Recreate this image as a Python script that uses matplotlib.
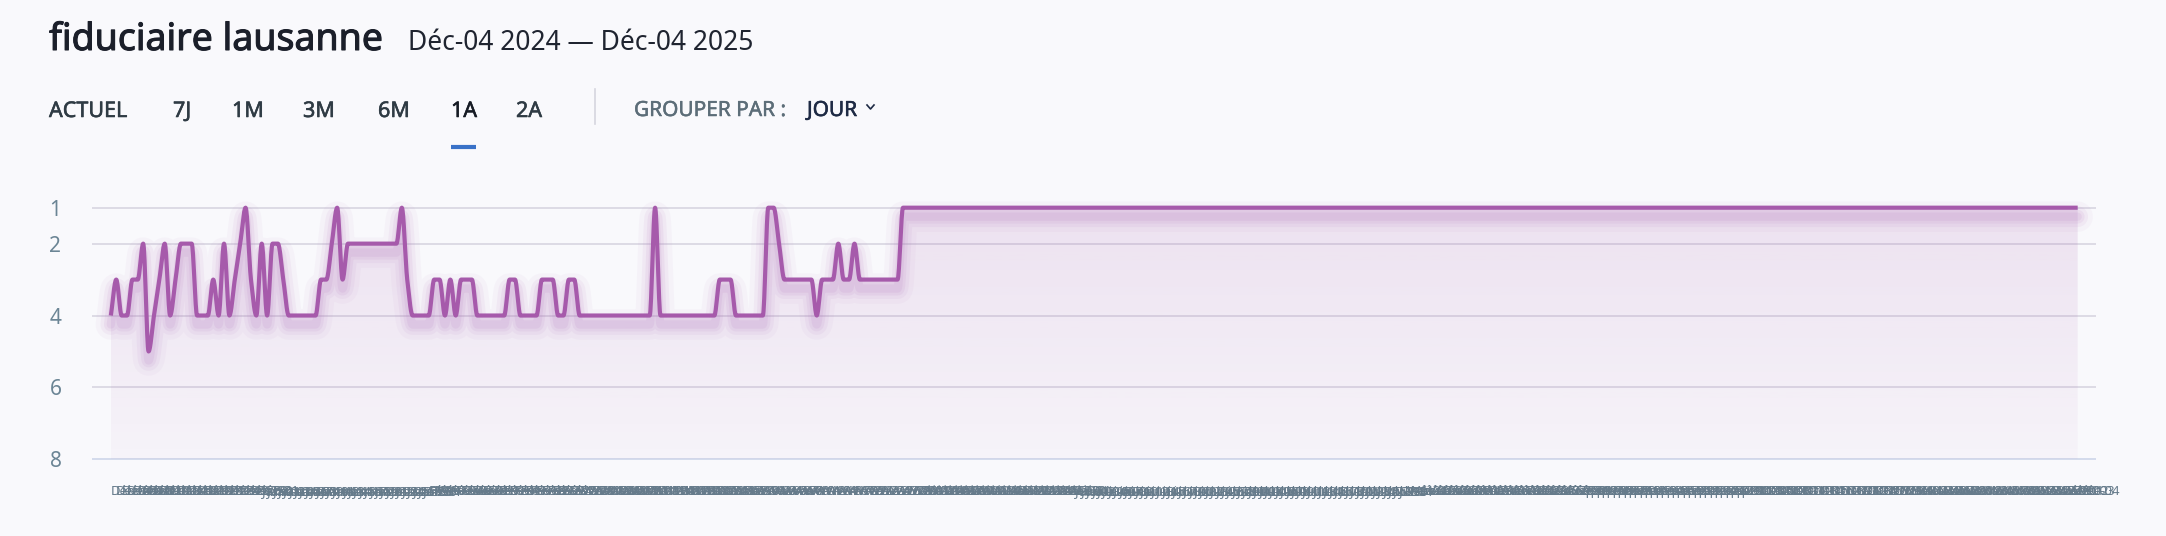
import numpy as np
import pandas as pd
import matplotlib
matplotlib.use("Agg")
import matplotlib.pyplot as plt
from matplotlib import transforms
import matplotlib.patheffects as pe

# ---- data ----
title = "fiduciaire lausanne"
period_label = "Déc-04 2024 — Déc-04 2025"
periods = ["ACTUEL", "7J", "1M", "3M", "6M", "1A", "2A"]
active_period = "1A"
group_label = "GROUPER PAR :"
group_value = "JOUR"

days = pd.date_range("2024-12-04", "2025-12-04", freq="D")
fr_months = ["Jan", "Fév", "Mar", "Avr", "Mai", "Jui", "Jul", "Aoû", "Sep", "Oct", "Nov", "Déc"]
tick_labels = [f"{fr_months[d.month - 1]}-{d.day:02d}" for d in days]

# daily rank (1 = best)
ranks = [
    4, 3, 4, 4, 3, 3, 2, 5, 4, 3,
    2, 4, 3, 2, 2, 2, 4, 4, 4, 3,
    4, 2, 4, 3, 2, 1, 3, 4, 2, 4,
    2, 2, 3, 4, 4, 4, 4, 4, 4, 3,
    3, 2, 1, 3, 2, 2, 2, 2, 2, 2,
    2, 2, 2, 2, 1, 3, 4, 4, 4, 4,
    3, 3, 4, 3, 4, 3, 3, 3, 4, 4,
    4, 4, 4, 4, 3, 3, 4, 4, 4, 4,
    3, 3, 3, 4, 4, 3, 3, 4, 4, 4,
    4, 4, 4, 4, 4, 4, 4, 4, 4, 4,
    4, 1, 4, 4, 4, 4, 4, 4, 4, 4,
    4, 4, 4, 3, 3, 3, 4, 4, 4, 4,
    4, 4, 1, 1, 2, 3, 3, 3, 3, 3,
    3, 4, 3, 3, 3, 2, 3, 3, 2, 3,
    3, 3, 3, 3, 3, 3, 3, 1, 1, 1,
    1, 1, 1, 1, 1, 1, 1, 1, 1, 1,
    1, 1, 1, 1, 1, 1, 1, 1, 1, 1,
    1, 1, 1, 1, 1, 1, 1, 1, 1, 1,
    1, 1, 1, 1, 1, 1, 1, 1, 1, 1,
    1, 1, 1, 1, 1, 1, 1, 1, 1, 1,
    1, 1, 1, 1, 1, 1, 1, 1, 1, 1,
    1, 1, 1, 1, 1, 1, 1, 1, 1, 1,
    1, 1, 1, 1, 1, 1, 1, 1, 1, 1,
    1, 1, 1, 1, 1, 1, 1, 1, 1, 1,
    1, 1, 1, 1, 1, 1, 1, 1, 1, 1,
    1, 1, 1, 1, 1, 1, 1, 1, 1, 1,
    1, 1, 1, 1, 1, 1, 1, 1, 1, 1,
    1, 1, 1, 1, 1, 1, 1, 1, 1, 1,
    1, 1, 1, 1, 1, 1, 1, 1, 1, 1,
    1, 1, 1, 1, 1, 1, 1, 1, 1, 1,
    1, 1, 1, 1, 1, 1, 1, 1, 1, 1,
    1, 1, 1, 1, 1, 1, 1, 1, 1, 1,
    1, 1, 1, 1, 1, 1, 1, 1, 1, 1,
    1, 1, 1, 1, 1, 1, 1, 1, 1, 1,
    1, 1, 1, 1, 1, 1, 1, 1, 1, 1,
    1, 1, 1, 1, 1, 1, 1, 1, 1, 1,
    1, 1, 1, 1, 1, 1,
]
y_ticks = [1, 2, 4, 6, 8]
assert len(ranks) == len(days)

# ---- style ----
BG = "#f9f9fc"
LINE = "#a65aab"
W, H = 2166, 536
plt.rcParams["font.family"] = ["Noto Sans", "DejaVu Sans"]


def smooth(y, n=16):
    # monotone cubic (Fritsch-Carlson) through the daily points, unit spacing
    y = np.asarray(y, dtype=float)
    d = np.diff(y)
    m = np.zeros_like(y)
    m[0], m[-1] = d[0], d[-1]
    for i in range(1, len(y) - 1):
        if d[i - 1] * d[i] > 0:
            m[i] = 2.0 / (1.0 / d[i - 1] + 1.0 / d[i])
    t = np.linspace(0, 1, n, endpoint=False)
    h00 = 2 * t**3 - 3 * t**2 + 1
    h10 = t**3 - 2 * t**2 + t
    h01 = -2 * t**3 + 3 * t**2
    h11 = t**3 - t**2
    xs, ys = [], []
    for i in range(len(y) - 1):
        xs.append(i + t)
        ys.append(h00 * y[i] + h10 * m[i] + h01 * y[i + 1] + h11 * m[i + 1])
    xs.append([len(y) - 1])
    ys.append([y[-1]])
    return np.concatenate(xs), np.concatenate(ys)


def bolder(color, lw):
    # fake a heavier weight: only the regular face is installed
    return [pe.withStroke(linewidth=lw, foreground=color)]


fig = plt.figure(figsize=(W / 100, H / 100), dpi=100, facecolor=BG)


def fx(px):
    return px / W


def fy(py):
    return 1 - py / H


# header
fig.text(fx(49), fy(50), title, fontsize=27, color="#1b1f2a", va="baseline",
         path_effects=bolder("#1b1f2a", 0.75))
fig.text(fx(408), fy(50), period_label, fontsize=19, color="#1f2430", va="baseline")

tab_x = [49, 173, 232, 303, 378, 451, 516]
for lab, x in zip(periods, tab_x):
    col = "#161b24" if lab == active_period else "#2f3b44"
    fig.text(fx(x), fy(117), lab, fontsize=15.5, color=col, va="baseline",
             path_effects=bolder(col, 0.4))
fig.add_artist(plt.Line2D([fx(451), fx(476)], [fy(147), fy(147)], color="#3a72c8",
                          lw=3, solid_capstyle="butt"))
fig.add_artist(plt.Line2D([fx(595), fx(595)], [fy(89), fy(124)], color="#d6d6de", lw=1.2))
fig.text(fx(634), fy(116), group_label, fontsize=15, color="#5c6d78", va="baseline",
         path_effects=bolder("#5c6d78", 0.35))
fig.text(fx(807), fy(116), group_value, fontsize=15, color="#1e2a44", va="baseline",
         path_effects=bolder("#1e2a44", 0.4))
# small chevron after the group value
fig.add_artist(plt.Line2D([fx(867), fx(870.5), fx(874)], [fy(105), fy(109), fy(105)],
                          color="#1e2a44", lw=1.2))

# chart axes: gridline 1 at y=207.7px, gridline 8 at y=459.3px
px_per_unit = (459.3 - 207.7) / 7
y_top, y_bot = 0.5, 8.3
ax_top = 207.7 - (1 - y_top) * px_per_unit
ax_bot = 459.3 + (y_bot - 8) * px_per_unit
ax = fig.add_axes([fx(92), fy(ax_bot), (2096 - 92) / W, (ax_bot - ax_top) / H])
ax.set_facecolor(BG)

x = np.arange(len(ranks))
y = np.array(ranks, dtype=float)
sx, sy = smooth(y)

# gradient area under the line
grad = np.zeros((256, 1, 4))
grad[..., :3] = matplotlib.colors.to_rgb(LINE)
grad[:, 0, 3] = np.linspace(0.15, 0.035, 256)
area = ax.fill_between(sx, sy, 8, facecolor="none", edgecolor="none")
img = ax.imshow(grad, extent=(x[0], x[-1], 8, 1), aspect="auto", origin="upper", zorder=1)
img.set_clip_path(area.get_paths()[0], transform=ax.transData)

# soft glow below the line
for lw, a in [(22, 0.05), (15, 0.08), (10, 0.1), (6, 0.12)]:
    shadow = transforms.offset_copy(ax.transData, fig=fig, x=0, y=-9, units="dots")
    ax.plot(sx, sy, color="#b67cc1", lw=lw, alpha=a, transform=shadow,
            solid_joinstyle="round", solid_capstyle="round", zorder=2)

ax.plot(sx, sy, color=LINE, lw=3.0, solid_joinstyle="round", solid_capstyle="butt",
        zorder=4, clip_on=False)

# grid
for t in y_ticks:
    gc = "#c9d3e8" if t == 8 else "#d5d2de"
    ax.axhline(t, color=gc, lw=1.1, zorder=0.5)

ax.set_xlim(-3.5, len(ranks) - 1 + 3.4)
ax.set_ylim(y_bot, y_top)
ax.set_yticks(y_ticks)
ax.set_yticklabels([str(t) for t in y_ticks], fontsize=15, color="#6b8595")
ax.set_xticks(x)
ax.set_xticklabels(tick_labels, fontsize=9.5, color="#667b8b", ha="left")
ax.tick_params(axis="y", length=0, pad=22)
ax.tick_params(axis="x", length=0, pad=11)
for s in ax.spines.values():
    s.set_visible(False)

fig.savefig("out.png", dpi=100, facecolor=BG)
